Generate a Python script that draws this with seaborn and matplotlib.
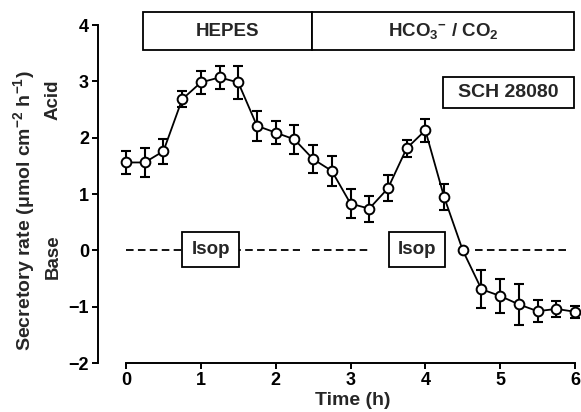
import matplotlib
matplotlib.use("Agg")
import matplotlib.pyplot as plt
from matplotlib.patches import Rectangle
import pandas as pd
import seaborn as sns

# secretory rate over time, means and s.e.m.
time_h = [0, 0.25, 0.5, 0.75, 1.0, 1.25, 1.5, 1.75, 2.0, 2.25, 2.5, 2.75, 3.0,
          3.25, 3.5, 3.75, 4.0, 4.25, 4.5, 4.75, 5.0, 5.25, 5.5, 5.75, 6.0]
rate = [1.56, 1.56, 1.76, 2.68, 2.98, 3.07, 2.98, 2.21, 2.09, 1.97, 1.62, 1.41, 0.83,
        0.74, 1.10, 1.81, 2.13, 0.95, 0.0, -0.69, -0.81, -0.96, -1.08, -1.04, -1.09]
sem = [0.21, 0.26, 0.22, 0.14, 0.20, 0.20, 0.29, 0.27, 0.21, 0.26, 0.25, 0.26, 0.26,
       0.23, 0.23, 0.15, 0.20, 0.23, 0.0, 0.34, 0.30, 0.37, 0.20, 0.14, 0.11]

x_ticks = [0, 1, 2, 3, 4, 5, 6]
y_ticks = [-2, -1, 0, 1, 2, 3, 4]

sns.set_style("ticks")
plt.rcParams['font.family'] = ['Liberation Sans', 'DejaVu Sans']
plt.rcParams['font.weight'] = 'bold'
plt.rcParams['axes.labelweight'] = 'bold'
plt.rcParams['mathtext.fontset'] = 'custom'
plt.rcParams['mathtext.rm'] = 'Liberation Sans:bold'
plt.rcParams['mathtext.it'] = 'Liberation Sans:bold'
plt.rcParams['mathtext.bf'] = 'Liberation Sans:bold'
plt.rcParams['mathtext.default'] = 'rm'

fig = plt.figure(figsize=(5.81, 4.12), dpi=100)
ax = fig.add_axes([0.1687, 0.1189, 0.8210, 0.8204])

df = pd.DataFrame({'time': time_h, 'rate': rate, 'sem': sem})

sns.lineplot(data=df, x='time', y='rate', color='black', lw=1.3, marker='o',
             markersize=7, markerfacecolor='white', markeredgecolor='black',
             markeredgewidth=1.4, ax=ax, clip_on=False, zorder=4)
bars = df[df['sem'] > 0]
ax.errorbar(bars['time'], bars['rate'], yerr=bars['sem'], fmt='none', ecolor='black',
            elinewidth=1.5, capsize=3.6, capthick=1.5, zorder=3, clip_on=False)

# isoproterenol dashed baseline segments
for x0, x1 in [(0, 2.33), (2.48, 3.26), (4.67, 5.9)]:
    ax.plot([x0, x1], [0, 0], color='black', lw=1.3, ls=(0, (4.2, 2.4)), zorder=1)

def box(x0, x1, y0, y1, label, size=13.5):
    ax.add_patch(Rectangle((x0, y0), x1 - x0, y1 - y0, fc='white', ec='black',
                           lw=1.3, clip_on=False, zorder=5))
    ax.text((x0 + x1) / 2, (y0 + y1) / 2, label, ha='center', va='center',
            fontsize=size, zorder=6, clip_on=False)

box(0.23, 2.49, 3.55, 4.23, 'HEPES')
box(2.49, 5.98, 3.55, 4.23, r'HCO$_3{}^{-}$ / CO$_2$')
box(4.24, 5.98, 2.52, 3.07, 'SCH 28080', size=14)
box(0.75, 1.51, -0.30, 0.32, 'Isop')
box(3.52, 4.26, -0.30, 0.32, 'Isop')

ax.set_xlim(-0.374, 6.0)
ax.set_ylim(-2, 4)
ax.set_xticks(x_ticks)
ax.set_yticks(y_ticks)
ax.spines['top'].set_visible(False)
ax.spines['right'].set_visible(False)
ax.spines['left'].set_bounds(-2, 4)
ax.spines['bottom'].set_bounds(0, 6)
for s in ['left', 'bottom']:
    ax.spines[s].set_linewidth(1.4)
    ax.spines[s].set_color('black')
ax.tick_params(width=1.4, length=4.5, labelsize=13, pad=2, colors='black')

ax.set_xlabel('Time (h)', fontsize=14, fontweight='bold')
ax.xaxis.set_label_coords((353 - 98) / 477, -0.085)
ax.set_ylabel('Secretory rate (\u03bcmol cm$^{-2}$ h$^{-1}$)', fontsize=14, fontweight='bold')
ax.yaxis.set_label_coords(-0.155, 0.45)
ax.yaxis.label.set_verticalalignment('center')

ax.text(-0.976, 2.68, 'Acid', rotation=90, ha='center', va='center', fontsize=13.5, clip_on=False)
ax.text(-0.976, -0.12, 'Base', rotation=90, ha='center', va='center', fontsize=13.5, clip_on=False)

fig.savefig('out.png', dpi=100)
